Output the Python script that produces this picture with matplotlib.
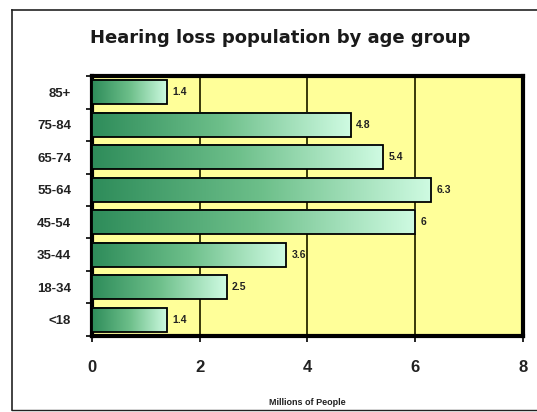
import numpy as np
import matplotlib
matplotlib.use('Agg')
import matplotlib.pyplot as plt
from matplotlib.colors import LinearSegmentedColormap
from matplotlib.lines import Line2D

# data
age_groups = ['<18', '18-34', '35-44', '45-54', '55-64', '65-74', '75-84', '85+']
millions = [1.4, 2.5, 3.6, 6.0, 6.3, 5.4, 4.8, 1.4]
value_labels = ['1.4', '2.5', '3.6', '6', '6.3', '5.4', '4.8', '1.4']
x_ticks = [0, 2, 4, 6, 8]

plt.rcParams['font.family'] = ['Liberation Sans', 'DejaVu Sans']

fig = plt.figure(figsize=(5.37, 4.12), dpi=100)
ax = fig.add_axes([0.1713, 0.1845, 0.8026, 0.631])
ax.set_facecolor('#FFFF99')

green = LinearSegmentedColormap.from_list('grn', ['#2E8C5A', '#6DBF8A', '#CFFBE2'])
grad = np.linspace(0, 1, 256).reshape(1, -1)

y = np.arange(len(age_groups))
bars = ax.barh(y, millions, height=0.74, facecolor='none', edgecolor='black',
               linewidth=1.3, zorder=4)
for b in bars:
    x0, y0 = b.get_x(), b.get_y()
    ax.imshow(grad, cmap=green, aspect='auto', zorder=3,
              extent=[x0, x0 + b.get_width(), y0, y0 + b.get_height()])

for yi, v, lab in zip(y, millions, value_labels):
    ax.text(v + 0.1, yi, lab, va='center', ha='left', fontsize=7.5,
            fontweight='bold', color='#222222', zorder=5)

ax.set_xlim(0, 8)
ax.set_ylim(-0.5, len(age_groups) - 0.5)
ax.set_xticks(x_ticks)
ax.set_xticklabels([str(t) for t in x_ticks], fontsize=12, fontweight='bold', color='#222222')
ax.set_yticks(y)
ax.set_yticklabels(age_groups, fontsize=9.5, fontweight='bold', color='#222222')
ax.set_yticks(np.arange(-0.5, len(age_groups), 1), minor=True)
ax.tick_params(axis='y', which='major', length=0, pad=15)
ax.tick_params(axis='y', which='minor', length=4, width=1.2, direction='out')
ax.tick_params(axis='x', length=4, width=1.2, pad=13)
ax.grid(axis='x', color='#2a2a00', linewidth=1.3, zorder=1)
ax.set_axisbelow(True)
for s in ax.spines.values():
    s.set_linewidth(3)
    s.set_color('black')

ax.set_xlabel('Millions of People', fontsize=6.5, fontweight='bold', color='#222222', labelpad=17)
fig.text(0.522, 0.908, 'Hearing loss population by age group', ha='center', va='center',
         fontsize=13, fontweight='bold', color='#1a1a1a', family='DejaVu Sans')

# outer chart frame
fig.add_artist(Line2D([12 / 537, 12 / 537], [2 / 412, 402 / 412], color='#222222', lw=1.2,
                      transform=fig.transFigure))
fig.add_artist(Line2D([12 / 537, 1.0], [402 / 412, 402 / 412], color='#222222', lw=1.2,
                      transform=fig.transFigure))
fig.add_artist(Line2D([12 / 537, 1.0], [2 / 412, 2 / 412], color='#222222', lw=1.0,
                      transform=fig.transFigure))

fig.savefig('out.png', dpi=100)
